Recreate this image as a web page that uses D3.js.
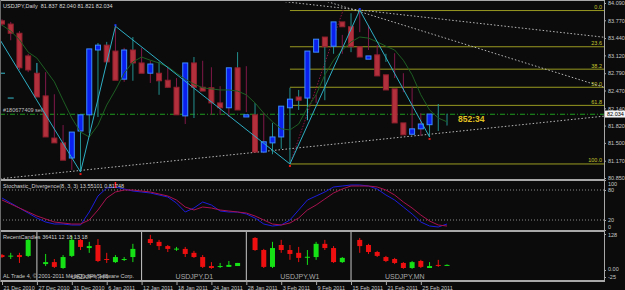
<!DOCTYPE html>
<html>
<head>
<meta charset="utf-8">
<script src="https://cdn.jsdelivr.net/npm/d3@7"></script>
<style>
  html, body { margin: 0; padding: 0; background: #0b0b0b; }
  svg { display: block; font-family: "Liberation Sans", Arial, sans-serif; }
</style>
</head>
<body>
<div id="chart"></div>
<script>
const chartTitle = "USDJPY,Daily  81.837 82.040 81.821 82.034";
const stochTitle = "Stochastic_Divergence(8, 3, 3) 13.55101 0.81748";
const recentTitle = "RecentCandles 36411 12 18 13 18";
const orderLabel = "#180677409 sell";
const timerLabel = "852:34";

// daily bars: [open, high, low, close]
const bars = [
  [83.76, 83.79, 83.66, 83.70], [83.70, 83.74, 83.40, 83.53], [83.53, 83.57, 82.85, 82.89],
  [83.11, 83.15, 82.81, 82.85], [82.79, 82.98, 82.65, 82.79], [82.79, 82.81, 81.79, 82.35],
  [82.37, 82.40, 81.55, 81.61], [81.59, 81.83, 81.28, 81.50], [81.50, 81.53, 81.00, 81.18],
  [81.22, 81.74, 80.96, 81.70], [81.72, 82.26, 81.68, 82.02], [82.02, 83.35, 81.98, 83.24],
  [83.22, 83.37, 83.18, 83.31], [83.31, 83.66, 82.83, 83.00], [83.20, 83.26, 82.63, 82.66],
  [82.68, 83.46, 82.65, 83.22], [83.22, 83.26, 82.94, 82.98], [82.98, 83.02, 82.61, 82.79],
  [82.79, 83.00, 82.39, 82.96], [82.79, 82.90, 82.52, 82.65], [82.66, 82.70, 82.44, 82.53],
  [82.53, 82.57, 81.85, 82.02], [82.00, 83.09, 81.96, 82.98], [82.98, 83.02, 82.50, 82.53],
  [82.53, 82.90, 82.02, 82.46], [82.52, 82.55, 82.02, 82.24], [82.24, 82.48, 81.98, 82.15],
  [82.15, 83.18, 82.11, 82.89], [82.89, 82.92, 82.07, 82.11], [81.98, 82.24, 81.89, 82.02],
  [82.02, 82.05, 81.31, 81.33], [81.33, 81.87, 81.29, 81.52], [81.50, 82.05, 81.39, 81.61],
  [81.61, 82.52, 81.11, 82.18], [82.15, 82.48, 82.11, 82.31], [82.33, 82.52, 81.92, 82.33],
  [82.35, 82.39, 82.24, 82.29], [82.33, 83.35, 82.29, 83.20], [83.18, 83.65, 83.15, 83.42],
  [83.46, 83.50, 83.15, 83.28], [83.29, 83.90, 83.18, 83.74], [83.74, 83.96, 83.55, 83.65],
  [83.65, 83.68, 83.22, 83.28], [83.28, 83.31, 83.03, 83.09], [83.05, 83.15, 83.00, 83.11],
  [83.13, 83.16, 82.70, 82.74], [82.76, 82.79, 82.44, 82.48], [82.50, 82.53, 81.65, 81.87],
  [81.87, 82.05, 81.63, 81.65], [81.66, 81.96, 81.61, 81.76], [81.76, 82.22, 81.72, 81.85],
  [81.837, 82.040, 81.821, 82.034]
];

const maValues = [
  83.68, 83.57, 83.41, 83.18, 83.07, 82.85, 82.63, 82.29, 81.96, 81.70, 81.61, 81.83, 82.20,
  82.48, 82.79, 83.00, 83.09, 83.03, 82.98, 82.91, 82.79, 82.68, 82.59, 82.52, 82.50, 82.48,
  82.48, 82.46, 82.39, 82.24, 82.05, 81.89, 81.76, 81.74, 81.85, 82.15, 82.39, 82.76, 83.03,
  83.22, 83.37, 83.46, 83.44, 83.37, 83.29, 83.22, 83.03, 82.76, 82.39, 82.11, 81.96, 81.89
];

// zigzag pivots: [bar index, price]
const zigzag = [[-2, 83.88], [9, 80.96], [13, 83.66], [33, 81.11], [41, 83.96], [49, 81.61]];

// hand drawn lines: two anchors [bar index, price], extended across the chart
const supportLine = [[9, 80.99], [49, 81.66]];
const fanLineA = [[41, 83.96], [51, 83.78]];
const fanLineB = [[41, 83.93], [51, 83.43]];
const redDotLine = [[33, 81.11], [39.1, 83.96]];

const fibLevels = [0, 23.6, 38.2, 50, 61.8, 100];
const fibLow = [33, 81.11];
const fibHigh = [41, 83.95];
const orderPrice = 82.03;

const priceTicks = [84.09, 83.77, 83.44, 83.12, 82.79, 82.47, 82.14, 81.82, 81.50, 81.17, 80.85];
const lastPrice = 82.034;

const stochMain = [
  64, 54, 44, 34, 24, 16, 12, 12, 10, 10, 36, 68, 84, 86, 82, 78, 76, 74, 70, 66, 54, 36, 44, 56, 50, 38,
  36, 36, 32, 24, 12, 8, 10, 20, 40, 60, 68, 76, 86, 88, 90, 90, 88, 82, 70, 60, 46, 32, 16, 8, 6, 12
];
const stochSignal = [
  60, 52, 44, 36, 28, 22, 16, 14, 12, 12, 20, 40, 64, 76, 80, 80, 78, 76, 72, 68, 60, 46, 40, 46, 44, 40,
  38, 36, 34, 28, 20, 12, 10, 14, 24, 40, 50, 62, 74, 82, 88, 88, 88, 86, 80, 70, 56, 44, 30, 18, 10, 8
];
const stochTicks = [100, 80, 20, 0];
const stochLevels = [80, 20];
const divergenceMarks = [13];

// recent candles panel: [bar slot, open, high, low, close]
const recentCandles = [
  [0, 53, 57, 43, 46], [1, 50, 61, 39, 51], [2, 53, 61, 25, 46], [3, 50, 110, 46, 107],
  [5, 21, 57, 14, 28], [6, 28, 39, 7, 11], [7, 7, 53, 4, 46], [8, 50, 121, 46, 107],
  [9, 107, 110, 71, 82], [10, 78, 100, 61, 85], [11, 89, 110, 28, 32], [12, 39, 61, 25, 36],
  [13, 28, 53, 25, 46], [14, 36, 46, 32, 39], [15, 46, 93, 28, 75],
  [17, 110, 125, 89, 96], [18, 100, 107, 71, 85], [19, 85, 89, 64, 75], [20, 75, 82, 68, 76],
  [21, 75, 82, 46, 57], [22, 61, 68, 43, 46], [23, 46, 53, 7, 11], [24, 14, 28, 4, 7],
  [25, 11, 25, 7, 14], [26, 11, 32, 11, 18], [27, 14, 25, 14, 25],
  [29, 114, 117, 68, 71], [30, 71, 75, 7, 11], [31, 11, 100, 7, 78], [32, 89, 107, 61, 71],
  [33, 71, 89, 36, 57], [34, 61, 82, 28, 43], [35, 46, 71, 18, 47], [36, 46, 100, 36, 93],
  [37, 93, 107, 71, 78], [38, 78, 85, 25, 28], [39, 28, 46, 25, 43],
  [41, 107, 114, 61, 85], [42, 89, 93, 57, 64], [43, 64, 68, 46, 50], [44, 46, 50, 28, 32],
  [45, 39, 43, 21, 25], [46, 25, 28, 4, 7], [47, 7, 32, 4, 28], [48, 32, 36, 7, 11],
  [49, 7, 28, 7, 14], [50, 18, 36, 11, 16], [51, 17, 20, 16, 18]
];
const recentSections = [[4, "USDJPY,H4"], [16, "USDJPY,D1"], [28, "USDJPY,W1"], [40, "USDJPY,MN"]];
const recentTicks = [128, 0, -25];
const copyright = "AL Trade 4, \u00a9 2001-2011 MetaQuotes Software Corp.";

const dateTicks = [
  [0, "21 Dec 2010"], [4, "27 Dec 2010"], [8, "31 Dec 2010"], [12, "6 Jan 2011"],
  [16, "12 Jan 2011"], [20, "18 Jan 2011"], [24, "24 Jan 2011"], [28, "28 Jan 2011"],
  [32, "3 Feb 2011"], [36, "9 Feb 2011"], [40, "15 Feb 2011"], [44, "21 Feb 2011"],
  [48, "25 Feb 2011"]
];

// ---- layout
const W = 625, H = 290, R = 604;
const mainTop = 2, mainBottom = 179, stochTop = 181, stochBottom = 230, recTop = 232, recBottom = 281;
const axisColor = "#a8a8a8", textColor = "#c8c8c8";

const svg = d3.select("#chart").append("svg").attr("width", W).attr("height", H);
svg.append("rect").attr("width", W).attr("height", H).attr("fill", "#0b0b0b");

const defs = svg.append("defs");
function clip(id, y0, y1) {
  defs.append("clipPath").attr("id", id)
    .append("rect").attr("x", 0).attr("y", y0).attr("width", R).attr("height", y1 - y0);
  return svg.append("g").attr("clip-path", `url(#${id})`);
}

const x = d3.scaleLinear().domain([0, 51]).range([2, 447]);
const y = d3.scaleLinear().domain([80.85, 84.09]).range([178, 3]);
const ys = d3.scaleLinear().domain([0, 100]).range([230, 180]);
const yr = d3.scaleLinear().domain([-25, 128]).range([277, 234]);

// ---- main panel
const main = clip("clipMain", mainTop, mainBottom);

// fibonacci retracement
const fibRange = fibHigh[1] - fibLow[1];
fibLevels.forEach((lvl) => {
  const py = y(fibHigh[1] - fibRange * lvl / 100);
  main.append("line")
    .attr("x1", x(fibLow[0])).attr("x2", R).attr("y1", py).attr("y2", py)
    .attr("stroke", "#9a9a22").attr("stroke-width", 1);
  main.append("text")
    .attr("x", R - 2).attr("y", py - 1.5).attr("text-anchor", "end")
    .attr("font-size", 5.5).attr("fill", "#c4c430").text(lvl.toFixed(1));
});

// order line
main.append("line")
  .attr("x1", 0).attr("x2", R).attr("y1", y(orderPrice)).attr("y2", y(orderPrice))
  .attr("stroke", "#1f9a1f").attr("stroke-dasharray", "5,2,1,2");
main.append("text").attr("x", 3).attr("y", y(orderPrice) - 2)
  .attr("font-size", 5.5).attr("fill", "#c0c0c0").text(orderLabel);

// extended lines through two anchors
function extended(pts) {
  const [a, b] = pts.map(([i, p]) => [x(i), y(p)]);
  const k = (b[1] - a[1]) / (b[0] - a[0]);
  return [[0, a[1] - k * a[0]], [R, a[1] + k * (R - a[0])]];
}
[supportLine, fanLineA, fanLineB].forEach((pts) => {
  main.append("path").attr("d", d3.line()(extended(pts)))
    .attr("fill", "none").attr("stroke", "#b8b8b8").attr("stroke-dasharray", "1.5,2");
});
main.append("path")
  .attr("d", d3.line().x((d) => x(d[0])).y((d) => y(d[1]))(redDotLine))
  .attr("fill", "none").attr("stroke", "#8c1444").attr("stroke-dasharray", "1.5,1.5");

// candles
const bodyW = 5;
const candle = main.selectAll("g.candle").data(bars).enter().append("g").attr("class", "candle");
candle.append("line")
  .attr("x1", (d, i) => x(i)).attr("x2", (d, i) => x(i))
  .attr("y1", (d) => y(d[1])).attr("y2", (d) => y(d[2]))
  .attr("stroke", (d) => d[0] === d[3] ? "#36bccc" : d[3] > d[0] ? "#23908f" : "#801848");
candle.filter((d) => d[0] !== d[3]).append("rect")
  .attr("x", (d, i) => x(i) - bodyW / 2)
  .attr("y", (d) => y(Math.max(d[0], d[3])))
  .attr("width", bodyW)
  .attr("height", (d) => Math.max(1, Math.abs(y(d[0]) - y(d[3]))))
  .attr("fill", (d) => d[3] > d[0] ? "#0a20ee" : "#b2303c")
  .attr("stroke", (d) => d[3] > d[0] ? "#3c8cff" : "#93202f");
candle.filter((d) => d[0] === d[3]).append("line")
  .attr("x1", (d, i) => x(i) - 3).attr("x2", (d, i) => x(i) + 3)
  .attr("y1", (d) => y(d[0])).attr("y2", (d) => y(d[0]))
  .attr("stroke", "#36bccc");

// moving average
main.append("path")
  .attr("d", d3.line().x((d, i) => x(i)).y((d) => y(d))(maValues))
  .attr("fill", "none").attr("stroke", "#1d5e22").attr("stroke-width", 1);

// zigzag
main.append("path")
  .attr("d", d3.line().x((d) => x(d[0])).y((d) => y(d[1]))(zigzag))
  .attr("fill", "none").attr("stroke", "#2eaec4").attr("stroke-width", 1);
zigzag.slice(1).forEach(([i, p], k) => {
  const low = zigzag[k][1] > p;
  main.append("rect")
    .attr("x", x(i) - 1).attr("y", low ? y(p) + 1 : y(p) - 2)
    .attr("width", 2).attr("height", 2)
    .attr("fill", low ? "#e01818" : "#2040ff");
});

// countdown
main.append("text").attr("x", 458).attr("y", y(lastPrice) + 8)
  .attr("font-size", 8.5).attr("font-weight", "bold").attr("fill", "#e2c222").text(timerLabel);

svg.append("text").attr("x", 3).attr("y", 8)
  .attr("font-size", 5.5).attr("fill", "#d8d8d8").attr("xml:space", "preserve").text(chartTitle);

// ---- stochastic panel
const st = clip("clipStoch", stochTop, stochBottom);
stochLevels.forEach((v) => {
  st.append("line").attr("x1", 0).attr("x2", R).attr("y1", ys(v)).attr("y2", ys(v))
    .attr("stroke", "#8a8a8a").attr("stroke-dasharray", "1,2");
});
st.append("path")
  .attr("d", d3.line().x((d, i) => x(i)).y((d) => ys(d))(stochMain))
  .attr("fill", "none").attr("stroke", "#1c1cdc");
st.append("path")
  .attr("d", d3.line().x((d, i) => x(i)).y((d) => ys(d))(stochSignal))
  .attr("fill", "none").attr("stroke", "#a8124f");
divergenceMarks.forEach((i) => {
  st.append("line").attr("x1", x(i)).attr("x2", x(i)).attr("y1", 182).attr("y2", 188)
    .attr("stroke", "#ff2020").attr("stroke-width", 1.5);
});
svg.append("text").attr("x", 3).attr("y", 188)
  .attr("font-size", 5.5).attr("fill", "#d0d0d0").text(stochTitle);

// ---- recent candles panel
const rc = clip("clipRecent", recTop, recBottom);
recentSections.forEach(([i, name]) => {
  rc.append("line").attr("x1", x(i)).attr("x2", x(i)).attr("y1", recTop).attr("y2", recBottom)
    .attr("stroke", "#c8c8c8");
  rc.append("text").attr("x", x(i) + 34).attr("y", 279)
    .attr("font-size", 7).attr("fill", "#a8a8a8").text(name);
});
const mini = rc.selectAll("g.mini").data(recentCandles).enter().append("g").attr("class", "mini");
const miniColor = (d) => d[4] >= d[1] ? "#16e016" : "#ee1010";
mini.append("line")
  .attr("x1", (d) => x(d[0])).attr("x2", (d) => x(d[0]))
  .attr("y1", (d) => yr(d[2])).attr("y2", (d) => yr(d[3]))
  .attr("stroke", miniColor);
mini.append("rect")
  .attr("x", (d) => x(d[0]) - 2.5).attr("width", 5)
  .attr("y", (d) => yr(Math.max(d[1], d[4])))
  .attr("height", (d) => Math.max(1, Math.abs(yr(d[1]) - yr(d[4]))))
  .attr("fill", miniColor);
svg.append("text").attr("x", 3).attr("y", 239)
  .attr("font-size", 5.5).attr("fill", "#d0d0d0").text(recentTitle);
svg.append("text").attr("x", 3).attr("y", 278)
  .attr("font-size", 5.5).attr("fill", "#c8c8c8").text(copyright);

// ---- frame
[[0, 0.5, R, 0.5], [0, 180, R, 180], [0, 231, R, 231], [0, 281, R, 281]].forEach(([x1, y1, x2, y2], k) => {
  svg.append("line").attr("x1", x1).attr("y1", y1).attr("x2", x2).attr("y2", y2)
    .attr("stroke", axisColor).attr("stroke-width", k === 0 ? 1 : 2);
});
svg.append("line").attr("x1", R + 0.5).attr("x2", R + 0.5).attr("y1", 0).attr("y2", 282)
  .attr("stroke", axisColor);
svg.append("line").attr("x1", 0.5).attr("x2", 0.5).attr("y1", 0).attr("y2", 282)
  .attr("stroke", "#6a6a6a");

// ---- axes
function styleAxis(g) {
  g.select(".domain").remove();
  g.selectAll("line").attr("stroke", axisColor);
  g.selectAll("text").attr("fill", textColor).attr("font-size", 5.5)
    .attr("font-family", "Liberation Sans, Arial, sans-serif");
}
svg.append("g").attr("transform", `translate(${R},0)`)
  .call(d3.axisRight(y).tickValues(priceTicks).tickFormat(d3.format(".3f")).tickSize(2).tickPadding(2))
  .call(styleAxis);

// last price box
svg.append("rect").attr("x", R + 1).attr("y", y(lastPrice) - 3.5).attr("width", 20).attr("height", 7)
  .attr("fill", "#f4f4f4");
svg.append("text").attr("x", R + 3).attr("y", y(lastPrice) + 2)
  .attr("font-size", 5.5).attr("fill", "#000").text(lastPrice.toFixed(3));

svg.append("g").attr("transform", `translate(${R},0)`)
  .call(d3.axisRight(ys).tickValues(stochTicks).tickSize(2).tickPadding(2))
  .call(styleAxis)
  .call((g) => g.selectAll("text").attr("y", (d) => d === 100 ? 4 : d === 0 ? -3 : 0));

svg.append("g").attr("transform", `translate(${R},0)`)
  .call(d3.axisRight(yr).tickValues(recentTicks).tickSize(2).tickPadding(2)
    .tickFormat((d) => d === 0 ? "0.00" : d))
  .call(styleAxis)
  .call((g) => g.selectAll("text").attr("y", (d) => d === 128 ? 1 : d === 0 ? -1.5 : 0));

const dateAxis = svg.append("g").attr("transform", `translate(0,${recBottom})`)
  .call(d3.axisBottom(x).tickValues(dateTicks.map((d) => d[0]))
    .tickFormat((d) => dateTicks.find((t) => t[0] === d)[1]).tickSize(4).tickPadding(2))
  .call(styleAxis);
dateAxis.selectAll("text").attr("text-anchor", "start").attr("dx", 1).attr("dy", "0.55em");
</script>
</body>
</html>
